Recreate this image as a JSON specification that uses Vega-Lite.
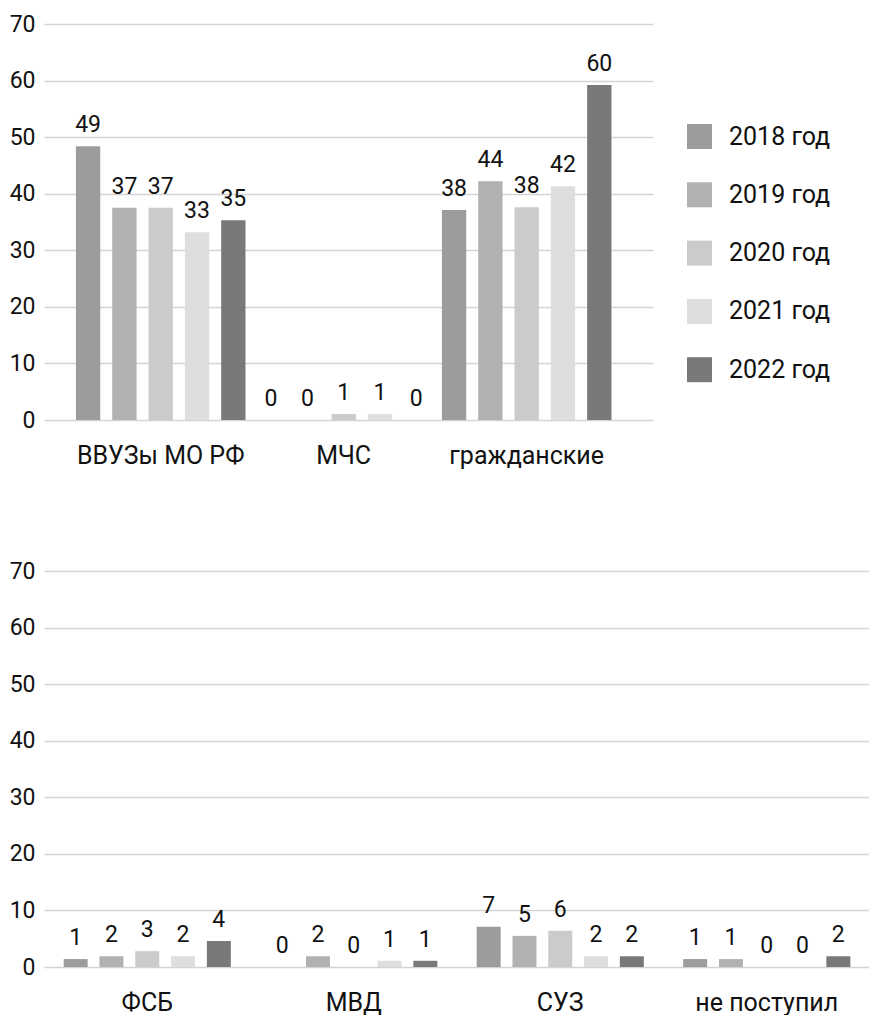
{
  "$schema": "https://vega.github.io/schema/vega-lite/v6.json",
  "padding": {"left": 9, "top": 13, "right": 0, "bottom": 0},
  "background": "white",
  "config": {
    "font": "Roboto",
    "view": {"stroke": null},
    "axis": {"labelFont": "Roboto", "labelFontSize": 23, "labelColor": "#111111", "title": null, "domain": false, "ticks": false},
    "axisY": {"grid": true, "gridColor": "#d4d4d4", "gridWidth": 1.5, "labelPadding": 9},
    "axisX": {"grid": false, "labelAngle": 0, "labelPadding": 23, "labelFontSize": 25},
    "legend": {"labelFont": "Roboto", "labelFontSize": 25, "labelColor": "#111111", "symbolType": "square", "symbolSize": 625, "symbolStrokeWidth": 0, "symbolOpacity": 1, "labelOffset": 17, "rowPadding": 32.3, "padding": 0}
  },
  "datasets": {
    "top": [
      {"cat": "ВВУЗы МО РФ", "year": "2018 год", "value": 48.4, "label": "49"},
      {"cat": "ВВУЗы МО РФ", "year": "2019 год", "value": 37.5, "label": "37"},
      {"cat": "ВВУЗы МО РФ", "year": "2020 год", "value": 37.5, "label": "37"},
      {"cat": "ВВУЗы МО РФ", "year": "2021 год", "value": 33.2, "label": "33"},
      {"cat": "ВВУЗы МО РФ", "year": "2022 год", "value": 35.3, "label": "35"},
      {"cat": "МЧС", "year": "2018 год", "value": 0, "label": "0"},
      {"cat": "МЧС", "year": "2019 год", "value": 0, "label": "0"},
      {"cat": "МЧС", "year": "2020 год", "value": 1.05, "label": "1"},
      {"cat": "МЧС", "year": "2021 год", "value": 1.05, "label": "1"},
      {"cat": "МЧС", "year": "2022 год", "value": 0, "label": "0"},
      {"cat": "гражданские", "year": "2018 год", "value": 37.1, "label": "38"},
      {"cat": "гражданские", "year": "2019 год", "value": 42.2, "label": "44"},
      {"cat": "гражданские", "year": "2020 год", "value": 37.6, "label": "38"},
      {"cat": "гражданские", "year": "2021 год", "value": 41.3, "label": "42"},
      {"cat": "гражданские", "year": "2022 год", "value": 59.2, "label": "60"}
    ],
    "bottom": [
      {"cat": "ФСБ", "year": "2018 год", "value": 1.4, "label": "1"},
      {"cat": "ФСБ", "year": "2019 год", "value": 1.9, "label": "2"},
      {"cat": "ФСБ", "year": "2020 год", "value": 2.8, "label": "3"},
      {"cat": "ФСБ", "year": "2021 год", "value": 1.9, "label": "2"},
      {"cat": "ФСБ", "year": "2022 год", "value": 4.6, "label": "4"},
      {"cat": "МВД", "year": "2018 год", "value": 0, "label": "0"},
      {"cat": "МВД", "year": "2019 год", "value": 1.9, "label": "2"},
      {"cat": "МВД", "year": "2020 год", "value": 0, "label": "0"},
      {"cat": "МВД", "year": "2021 год", "value": 1.1, "label": "1"},
      {"cat": "МВД", "year": "2022 год", "value": 1.1, "label": "1"},
      {"cat": "СУЗ", "year": "2018 год", "value": 7.1, "label": "7"},
      {"cat": "СУЗ", "year": "2019 год", "value": 5.5, "label": "5"},
      {"cat": "СУЗ", "year": "2020 год", "value": 6.4, "label": "6"},
      {"cat": "СУЗ", "year": "2021 год", "value": 1.9, "label": "2"},
      {"cat": "СУЗ", "year": "2022 год", "value": 1.9, "label": "2"},
      {"cat": "не поступил", "year": "2018 год", "value": 1.4, "label": "1"},
      {"cat": "не поступил", "year": "2019 год", "value": 1.4, "label": "1"},
      {"cat": "не поступил", "year": "2020 год", "value": 0, "label": "0"},
      {"cat": "не поступил", "year": "2021 год", "value": 0, "label": "0"},
      {"cat": "не поступил", "year": "2022 год", "value": 1.9, "label": "2"}
    ]
  },
  "spacing": 92,
  "resolve": {"scale": {"x": "independent", "xOffset": "independent", "color": "shared"}},
  "vconcat": [
    {
      "width": 609,
      "height": 396,
      "data": {"name": "top"},
      "encoding": {
        "x": {"field": "cat", "type": "nominal", "sort": null, "scale": {"paddingInner": 0, "paddingOuter": 0.164, "align": 0.42}},
        "xOffset": {"field": "year", "type": "nominal", "scale": {"paddingInner": 0.33, "paddingOuter": 0.185}},
        "y": {"field": "value", "type": "quantitative", "scale": {"domain": [0, 70]}, "axis": {"values": [0, 10, 20, 30, 40, 50, 60, 70]}}
      },
      "layer": [
        {
          "mark": {"type": "bar"},
          "encoding": {
            "color": {
              "field": "year", "type": "nominal",
              "scale": {"domain": ["2018 год", "2019 год", "2020 год", "2021 год", "2022 год"], "range": ["#9b9c9e", "#b0b1b3", "#cacbcd", "#dddee0", "#78797b"]},
              "legend": {"orient": "none", "legendX": 643, "legendY": 100, "title": null}
            }
          }
        },
        {
          "mark": {"type": "text", "baseline": "bottom", "dy": -9, "fontSize": 23, "color": "#111111", "font": "Roboto"},
          "encoding": {"text": {"field": "label"}}
        }
      ]
    },
    {
      "width": 826,
      "height": 396,
      "data": {"name": "bottom"},
      "encoding": {
        "x": {"field": "cat", "type": "nominal", "sort": null, "scale": {"paddingInner": 0, "paddingOuter": 0}},
        "xOffset": {"field": "year", "type": "nominal", "scale": {"paddingInner": 0.33, "paddingOuter": 0.55}},
        "y": {"field": "value", "type": "quantitative", "scale": {"domain": [0, 70]}, "axis": {"values": [0, 10, 20, 30, 40, 50, 60, 70]}}
      },
      "layer": [
        {
          "mark": {"type": "bar"},
          "encoding": {
            "color": {"field": "year", "type": "nominal", "legend": null}
          }
        },
        {
          "mark": {"type": "text", "baseline": "bottom", "dy": -9, "fontSize": 23, "color": "#111111", "font": "Roboto"},
          "encoding": {"text": {"field": "label"}}
        }
      ]
    }
  ]
}
